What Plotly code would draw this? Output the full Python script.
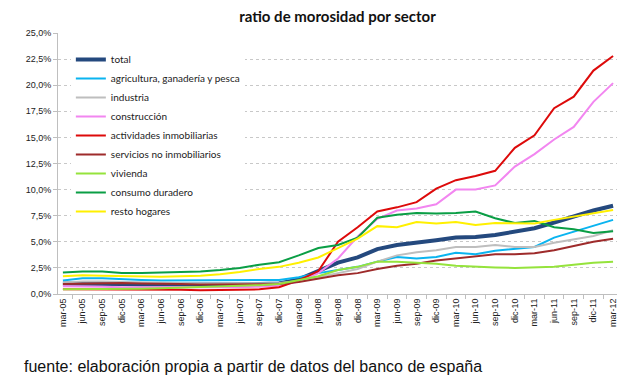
import plotly.graph_objects as go

categories = ["mar-05", "jun-05", "sep-05", "dic-05", "mar-06", "jun-06", "sep-06", "dic-06",
              "mar-07", "jun-07", "sep-07", "dic-07", "mar-08", "jun-08", "sep-08", "dic-08",
              "mar-09", "jun-09", "sep-09", "dic-09", "mar-10", "jun-10", "sep-10", "dic-10",
              "mar-11", "jun-11", "sep-11", "dic-11", "mar-12"]

total = [1.0, 1.0, 1.0, 0.95, 0.9, 0.9, 0.85, 0.85, 0.85, 0.9, 0.95, 1.0, 1.4, 2.2, 3.0, 3.5,
         4.3, 4.7, 4.9, 5.15, 5.4, 5.45, 5.65, 5.95, 6.3, 6.85, 7.4, 8.0, 8.45]
agricultura = [1.3, 1.5, 1.5, 1.4, 1.35, 1.3, 1.3, 1.3, 1.3, 1.3, 1.3, 1.35, 1.6, 2.0, 2.3, 2.6,
               3.1, 3.55, 3.4, 3.55, 3.95, 3.8, 4.15, 4.35, 4.5, 5.4, 5.95, 6.5, 7.1]
industria = [1.1, 1.2, 1.2, 1.15, 1.1, 1.1, 1.05, 1.0, 1.0, 1.0, 1.0, 1.05, 1.25, 1.6, 2.0, 2.4,
             3.1, 3.7, 4.0, 4.2, 4.5, 4.5, 4.7, 4.5, 4.5, 4.9, 5.2, 5.55, 6.1]
construccion = [0.75, 0.75, 0.7, 0.65, 0.65, 0.65, 0.65, 0.6, 0.6, 0.65, 0.7, 0.8, 1.2, 2.0, 3.4, 5.5,
                7.2, 8.0, 8.2, 8.6, 10.0, 10.0, 10.4, 12.2, 13.4, 14.8, 16.0, 18.4, 20.2]
actividades = [0.45, 0.45, 0.4, 0.4, 0.4, 0.4, 0.4, 0.35, 0.35, 0.4, 0.45, 0.65, 1.3, 2.2, 5.0, 6.4,
               7.9, 8.3, 8.8, 10.1, 10.9, 11.3, 11.8, 14.0, 15.2, 17.8, 18.9, 21.4, 22.8]
servicios = [0.95, 1.0, 1.05, 1.05, 1.0, 1.0, 0.95, 0.9, 0.9, 0.9, 0.9, 0.95, 1.15, 1.45, 1.8, 2.0,
             2.4, 2.7, 2.9, 3.2, 3.4, 3.6, 3.8, 3.8, 3.9, 4.2, 4.6, 5.0, 5.3]
vivienda = [0.45, 0.45, 0.5, 0.5, 0.5, 0.55, 0.6, 0.65, 0.7, 0.75, 0.85, 0.95, 1.3, 1.7, 2.3, 2.6,
            3.1, 3.1, 3.0, 2.9, 2.7, 2.6, 2.55, 2.5, 2.55, 2.6, 2.8, 3.0, 3.1]
consumo = [2.05, 2.15, 2.15, 2.0, 2.0, 2.05, 2.1, 2.15, 2.3, 2.5, 2.8, 3.05, 3.7, 4.4, 4.7, 5.4,
           7.3, 7.6, 7.75, 7.7, 7.75, 7.9, 7.25, 6.8, 7.0, 6.4, 6.2, 5.85, 6.0]
resto = [1.7, 1.8, 1.75, 1.7, 1.65, 1.65, 1.7, 1.75, 1.9, 2.1, 2.4, 2.6, 3.0, 3.5, 4.4, 5.3,
         6.5, 6.4, 6.9, 6.75, 6.9, 6.6, 6.8, 6.8, 6.75, 7.1, 7.4, 7.7, 8.05]

series = [
    ("total", total, "#24497E", 4),
    ("agricultura, ganadería y pesca", agricultura, "#0AB4F0", 2),
    ("industria", industria, "#BEBEBE", 2),
    ("construcción", construccion, "#F286F0", 2),
    ("actividades inmobiliarias", actividades, "#DD0A0A", 2),
    ("servicios no inmobiliarios", servicios, "#9E2B2B", 2),
    ("vivienda", vivienda, "#95E33C", 2),
    ("consumo duradero", consumo, "#0A9E45", 2),
    ("resto hogares", resto, "#FFF000", 2),
]

W, H = 632, 377
L, T, PW, PH = 50, 25, 559, 261

fig = go.Figure()
for name, vals, color, w in series:
    fig.add_trace(go.Scatter(x=categories, y=vals, mode="lines", name=name,
                             line=dict(color=color, width=w)))

fig.update_layout(
    width=W, height=H,
    margin=dict(l=L, r=W - L - PW, t=T, b=H - T - PH),
    paper_bgcolor="white", plot_bgcolor="white",
    separators=",.",
    title=dict(text="<b>ratio de morosidad por sector</b>", x=0.5, xanchor="center",
               y=1 - 9 / H, yanchor="middle", xref="paper",
               font=dict(family="Lato", size=15, color="#111")),
    font=dict(family="Lato", color="#222"),
    legend=dict(x=0.023, y=1 - (37 - T) / PH, xanchor="left", yanchor="top",
                bgcolor="white", font=dict(family="Lato", size=10, color="#222"),
                tracegroupgap=0, itemwidth=30),
    showlegend=True,
)
fig.update_xaxes(type="category", range=[-0.25, 28.2], tickangle=-90,
                 tickfont=dict(family="Liberation Sans", size=9, color="#222"),
                 showline=True, linecolor="#BFBFBF", linewidth=1,
                 ticks="outside", tickson="boundaries", ticklen=4, tickcolor="#BFBFBF",
                 showgrid=False)
fig.update_yaxes(range=[0, 25], dtick=2.5, tickformat=".1f", ticksuffix="%",
                 tickfont=dict(family="Liberation Sans", size=9, color="#222"),
                 showline=True, linecolor="#BFBFBF", linewidth=1,
                 ticks="outside", ticklen=4, tickcolor="#BFBFBF",
                 showgrid=True, gridcolor="#C8C8C8", griddash="dot", gridwidth=1,
                 zeroline=False)

fig.add_annotation(text="fuente: elaboración propia a partir de datos del banco de españa",
                   xref="paper", yref="paper", x=-(L - 14) / PW, y=-(358 - T - PH) / PH,
                   xanchor="left", yanchor="middle", showarrow=False,
                   font=dict(family="Liberation Sans", size=16, color="#111"))

fig.write_html("out.html")
